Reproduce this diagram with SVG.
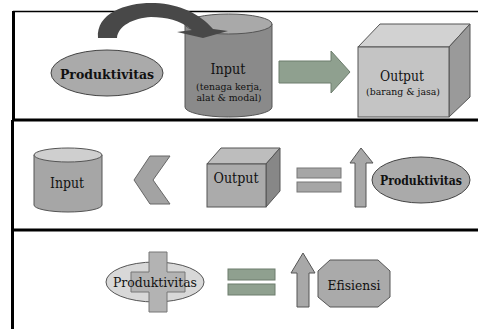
<svg xmlns="http://www.w3.org/2000/svg" width="478" height="329" viewBox="0 0 478 329">
<style>
  text { font-family: "DejaVu Serif", "Liberation Serif", serif; fill: #111; text-anchor: middle; }
  .b { font-weight: bold; }
  .frame { stroke: #000; fill: none; }
</style>
<rect width="478" height="329" fill="#fff"/>
<g id="frames">
  <line class="frame" x1="13" y1="11.5" x2="478" y2="11.5" stroke-width="1.5" stroke="#333"/>
  <line class="frame" x1="13.5" y1="11" x2="13.5" y2="120" stroke-width="3"/>
  <line class="frame" x1="12.5" y1="120" x2="12.5" y2="230" stroke-width="3"/>
  <line class="frame" x1="12.5" y1="230" x2="12.5" y2="329" stroke-width="3"/>
  <line class="frame" x1="12" y1="120" x2="478" y2="120" stroke-width="3"/>
  <line class="frame" x1="12" y1="230" x2="478" y2="230" stroke-width="3"/>
</g>
<g id="p1-produktivitas">
  <ellipse cx="107" cy="73" rx="56" ry="23" fill="#aaaaaa" stroke="#444"/>
  <text class="b" x="107" y="79" font-size="13.5" textLength="94" lengthAdjust="spacingAndGlyphs">Produktivitas</text>
</g>
<g id="p1-input">
  <path d="M185,24 L185,107 A43.5,10 0 0 0 272,107 L272,24 Z" fill="#8a8a8a" stroke="#555"/>
  <ellipse cx="228.5" cy="24" rx="43.5" ry="10" fill="#a9a9a9" stroke="#555"/>
  <text x="228" y="74" font-size="15" textLength="35" lengthAdjust="spacingAndGlyphs">Input</text>
  <text x="229" y="90" font-size="10" textLength="66" lengthAdjust="spacingAndGlyphs">(tenaga kerja,</text>
  <text x="229" y="101" font-size="10" textLength="65" lengthAdjust="spacingAndGlyphs">alat &amp; modal)</text>
</g>
<g id="p1-output">
  <polygon points="358,47 380,24 470,24 449,47" fill="#d2d2d2" stroke="#555"/>
  <polygon points="449,47 470,24 470,97 449,117" fill="#9a9a9a" stroke="#555"/>
  <rect x="358" y="47" width="91" height="70" fill="#c4c4c4" stroke="#555"/>
  <text x="402" y="81" font-size="15" textLength="44" lengthAdjust="spacingAndGlyphs">Output</text>
  <text x="403" y="95" font-size="10" textLength="74" lengthAdjust="spacingAndGlyphs">(barang &amp; jasa)</text>
</g>
<g id="p2-input">
  <path d="M34,155 L34,205 A34,7 0 0 0 102,205 L102,155 Z" fill="#a6a6a6" stroke="#555"/>
  <ellipse cx="68" cy="155" rx="34" ry="7" fill="#cfcfcf" stroke="#555"/>
  <text x="67" y="188" font-size="14" textLength="34" lengthAdjust="spacingAndGlyphs">Input</text>
</g>
<g id="p2-less">
  <polygon points="150,156 170,156 153,180 170,204 150,204 134,180" fill="#a3a3a3" stroke="#666"/>
</g>
<g id="p2-output">
  <polygon points="207,164 221,148 280,148 266,164" fill="#bdbdbd" stroke="#555"/>
  <polygon points="266,164 280,148 280,191 266,207" fill="#878787" stroke="#555"/>
  <rect x="207" y="164" width="59" height="43" fill="#ababab" stroke="#555"/>
  <text x="236" y="183" font-size="14" textLength="45" lengthAdjust="spacingAndGlyphs">Output</text>
</g>
<g id="p2-equals">
  <rect x="297" y="168" width="44" height="10" fill="#a6a6a6" stroke="#777"/>
  <rect x="297" y="182" width="44" height="10" fill="#a6a6a6" stroke="#777"/>
</g>
<g id="p2-up">
  <polygon points="361,148 373,163 366,163 366,207 355,207 355,163 350,163" fill="#a8a8a8" stroke="#555"/>
</g>
<g id="p2-produktivitas">
  <ellipse cx="421" cy="180" rx="49" ry="23" fill="#aaaaaa" stroke="#444"/>
  <text class="b" x="421" y="185" font-size="12" textLength="82" lengthAdjust="spacingAndGlyphs">Produktivitas</text>
</g>
<g id="p3-produktivitas">
  <ellipse cx="155" cy="282" rx="49" ry="20" fill="#d8d8d8" stroke="#555"/>
  <path d="M149,252 L167,252 L167,272 L185,272 L185,292 L167,292 L167,312 L149,312 L149,292 L131,292 L131,272 L149,272 Z" fill="#b3b3b3" stroke="#777"/>
  <text x="155" y="287" font-size="12" textLength="84" lengthAdjust="spacingAndGlyphs">Produktivitas</text>
</g>
<g id="p3-equals">
  <rect x="228" y="269" width="47" height="11" fill="#8fa08f" stroke="#6c7c6c"/>
  <rect x="228" y="284" width="47" height="11" fill="#8fa08f" stroke="#6c7c6c"/>
</g>
<g id="p3-up">
  <polygon points="303,253 315,273 309,273 309,307 297,307 297,273 291,273" fill="#a8a8a8" stroke="#555"/>
</g>
<g id="p3-efisiensi">
  <polygon points="330,260 378,260 390,271 390,297 378,307 330,307 318,297 318,271" fill="#aaaaaa" stroke="#555"/>
  <text x="354" y="290" font-size="13" textLength="53" lengthAdjust="spacingAndGlyphs">Efisiensi</text>
</g>
<g id="connectors">
  <path d="M98,38 C96,12 128,2 155,3 C180,4 200,14 213,29 L228,31 L203,38 L177,32 L192,30 C180,20 166,17 151,17 C133,18 118,26 117,38 Z" fill="#484848"/>
  <polygon points="279,61 331,61 331,51 350,72 331,93 331,83 279,83" fill="#8fa08f" stroke="#6c7c6c"/>
</g>
</svg>
